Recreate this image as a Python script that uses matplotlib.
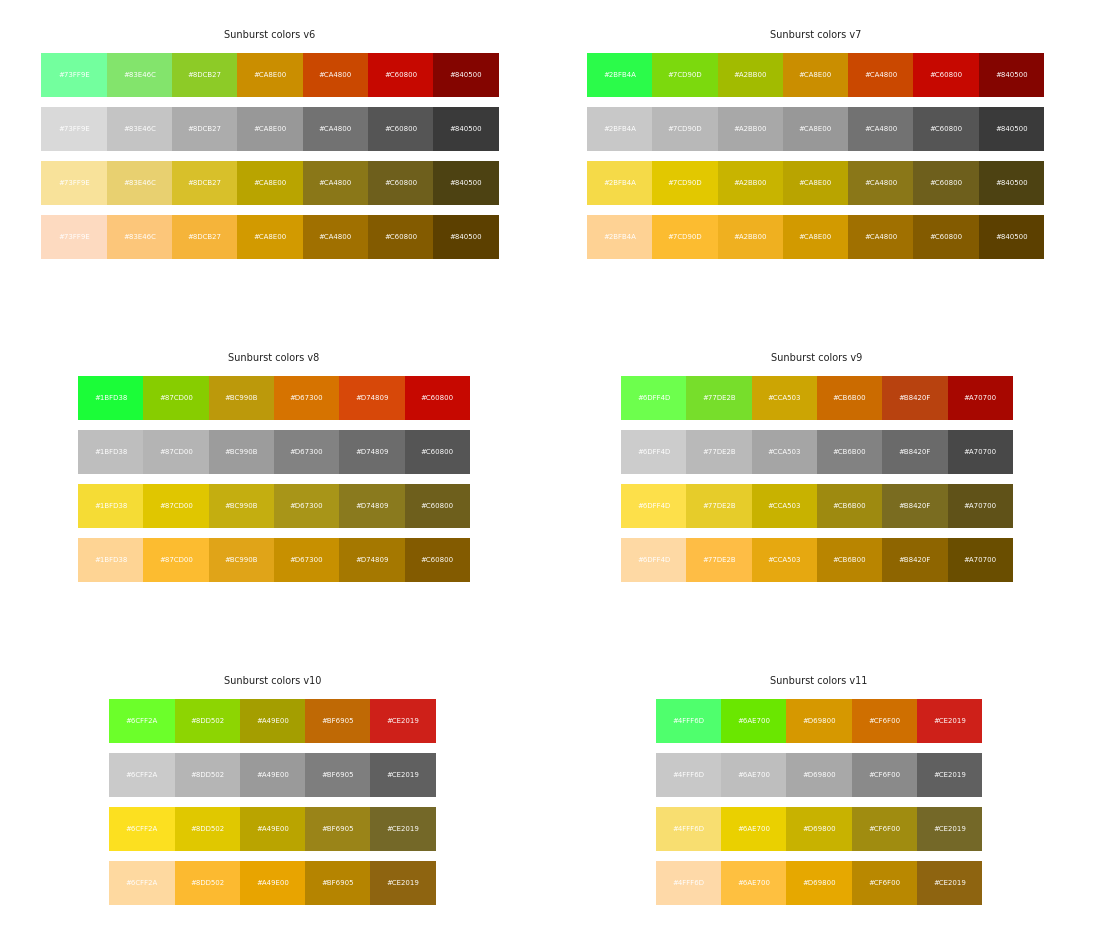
import matplotlib.pyplot as plt

# palettes: (title, hex codes, gray row, yellow row, orange row)
titles = ["Sunburst colors v6", "Sunburst colors v7", "Sunburst colors v8",
          "Sunburst colors v9", "Sunburst colors v10", "Sunburst colors v11"]

codes = [
    ["73FF9E", "83E46C", "8DCB27", "CA8E00", "CA4800", "C60800", "840500"],
    ["2BFB4A", "7CD90D", "A2BB00", "CA8E00", "CA4800", "C60800", "840500"],
    ["1BFD38", "87CD00", "BC990B", "D67300", "D74809", "C60800"],
    ["6DFF4D", "77DE2B", "CCA503", "CB6B00", "B8420F", "A70700"],
    ["6CFF2A", "8DD502", "A49E00", "BF6905", "CE2019"],
    ["4FFF6D", "6AE700", "D69800", "CF6F00", "CE2019"],
]
gray_rows = [
    ["D9D9D9", "C4C4C4", "ACACAC", "989898", "727272", "555555", "3A3A3A"],
    ["C8C8C8", "B8B8B8", "A8A8A8", "989898", "727272", "555555", "3A3A3A"],
    ["BEBEBE", "B4B4B4", "9C9C9C", "828282", "6C6C6C", "555555"],
    ["CCCCCC", "B9B9B9", "A5A5A5", "828282", "6A6A6A", "484848"],
    ["CACACA", "B5B5B5", "9A9A9A", "7E7E7E", "606060"],
    ["C8C8C8", "BEBEBE", "A8A8A8", "8A8A8A", "606060"],
]
yellow_rows = [
    ["F8E29A", "E8D070", "D8C02A", "B9A400", "8A7718", "6E5F1C", "4D4212"],
    ["F5DA48", "E2C800", "C8B400", "B9A400", "8A7718", "6E5F1C", "4D4212"],
    ["F5DC35", "E0C600", "C4AE10", "A89518", "8A7A1E", "6E5F1C"],
    ["FDE04A", "E6CC2A", "C8B200", "9E8A10", "7A6C20", "605218"],
    ["FCE020", "E0C800", "BAA400", "9A8418", "746828"],
    ["F8DE70", "EAD000", "C8B200", "A08C10", "746828"],
]
orange_rows = [
    ["FDDAC0", "FCC67A", "F5B43A", "D29A00", "A07000", "835B00", "5C4000"],
    ["FED294", "FCBC30", "EFB020", "D29A00", "A07000", "835B00", "5C4000"],
    ["FED494", "FCBC30", "E0A418", "C79000", "A57800", "835B00"],
    ["FED9A4", "FEBD45", "E6A810", "B98500", "8E6500", "6A4E00"],
    ["FED9A0", "FCBA30", "E8A400", "B58400", "8E6410"],
    ["FED9A8", "FEC040", "E6A800", "B98800", "8E6410"],
]

W, H = 1093, 933
fig = plt.figure(figsize=(W / 100, H / 100), dpi=100)
ax = fig.add_axes([0, 0, 1, 1])
ax.set_xlim(0, W)
ax.set_ylim(H, 0)
ax.axis("off")

cell_w = 65.3
cell_h = 44
row_gap = 54
centers_x = [270, 815.5, 274, 817, 272.5, 819]
tops = [53, 53, 376, 376, 699, 699]

for p in range(6):
    n = len(codes[p])
    x0 = centers_x[p] - n * cell_w / 2
    ax.text(centers_x[p], tops[p] - 18, titles[p], ha="center", va="center",
            fontsize=7, color="#222222")
    rows = [["#" + c for c in codes[p]], ["#" + c for c in gray_rows[p]],
            ["#" + c for c in yellow_rows[p]], ["#" + c for c in orange_rows[p]]]
    for r, cols in enumerate(rows):
        y = tops[p] + r * row_gap
        xs = [x0 + i * cell_w for i in range(n)]
        ax.bar(xs, cell_h, width=cell_w, bottom=y, align="edge", color=cols, linewidth=0)
        for i in range(n):
            ax.text(xs[i] + cell_w / 2, y + cell_h / 2, "#" + codes[p][i],
                    ha="center", va="center", fontsize=5, color="white")

fig.savefig("out.png", dpi=100)
